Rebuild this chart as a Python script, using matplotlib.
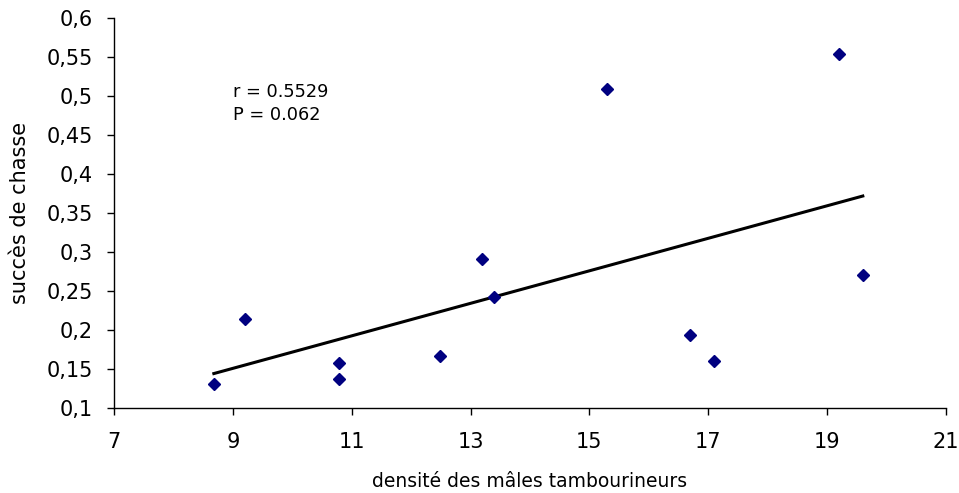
import numpy as np
import matplotlib
matplotlib.use("Agg")
import matplotlib.pyplot as plt
from matplotlib.ticker import FuncFormatter

density = [8.68, 9.21, 10.79, 10.79, 12.49, 13.19, 13.40, 15.29, 16.70, 17.10, 19.20, 19.60]
success = [0.131, 0.214, 0.158, 0.137, 0.167, 0.291, 0.242, 0.509, 0.194, 0.160, 0.554, 0.271]
annot = "r = 0.5529\nP = 0.062"

plt.rcParams['font.family'] = ['DejaVu Sans']

fig = plt.figure(figsize=(9.59, 4.93), dpi=100)
ax = fig.add_axes([114/959, 1-408/493, (946-114)/959, (408-18)/493])

x = np.array(density)
y = np.array(success)
slope, intercept = np.polyfit(x, y, 1)
xl = np.array([x.min(), x.max()])
ax.plot(xl, slope*xl + intercept, color='black', lw=2.2, zorder=2)
ax.plot(x, y, linestyle='none', marker='D', color='#000080', markersize=6, zorder=3)

ax.set_xlim(7, 21)
ax.set_ylim(0.1, 0.6)
ax.set_xticks(np.arange(7, 22, 2))
ax.set_yticks(np.arange(0.1, 0.6001, 0.05))
ax.yaxis.set_major_formatter(FuncFormatter(lambda v, p: ('%g' % round(v, 2)).replace('.', ',')))
for s in ['top', 'right']:
    ax.spines[s].set_visible(False)
for s in ['left', 'bottom']:
    ax.spines[s].set_color('black')
    ax.spines[s].set_linewidth(1)
ax.tick_params(direction='out', length=5, width=1, labelsize=15)
ax.tick_params(axis='y', pad=10)
ax.tick_params(axis='x', pad=12)
ax.set_xlabel('densité des mâles tambourineurs', fontsize=13.5, labelpad=15)
ax.set_ylabel('succès de chasse', fontsize=15, labelpad=12)
ax.text(9.0, 0.517, annot, fontsize=12.8, va='top', ha='left', linespacing=1.4)

fig.savefig('out.png', dpi=100)
